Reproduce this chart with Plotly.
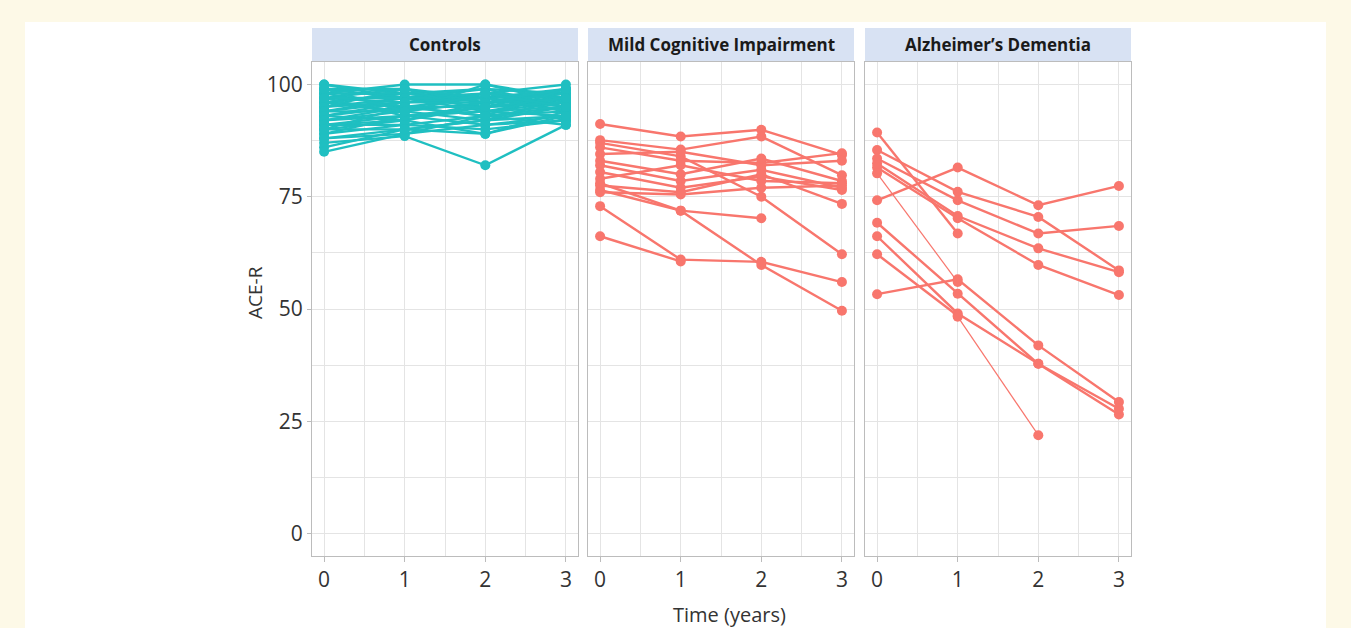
import plotly.graph_objects as go

# ---------------- data ----------------
time_points = [0, 1, 2, 3]
panel_titles = ["Controls", "Mild Cognitive Impairment", "Alzheimer\u2019s Dementia"]
y_ticks = [0, 25, 50, 75, 100]
x_ticks = [0, 1, 2, 3]

# ACE-R per subject at years 0,1,2,3 (None = missing)
controls_scores = [
    [100, 98, 97, 99], [99, 97, 99, 98], [98, 100, 100, 97], [97, 96, 98, 100],
    [97, 99, 96, 96], [96, 98, 99, 95], [96, 95, 97, 98], [95, 97, 95, 99],
    [95, 96, 98, 94], [94, 94, 96, 97], [94, 97, 94, 96], [93, 95, 93, 95],
    [93, 92, 95, 96], [92, 93, 94, 93], [92, 94, 92, 97], [91, 91, 93, 94],
    [91, 93, 91, 93], [90, 92, 96, 92], [90, 90, 92, 95], [89, 91, 90, 92],
    [88, 89, 93, 91], [87, 88.5, 82, 91], [86, 90, 89, 93], [85, 89, 91, 92],
    [98, 95, 95, 96], [99, 99, 97, 98], [100, 97, 98, 97], [98, 98, 96, 99],
    [97, 97, 97, 95], [96, 94, 100, 96], [95, 99, 94, 97], [94, 96, 97, 94],
    [93, 96, 96, 98], [92, 95, 95, 96], [91, 92, 89, 94], [89, 93, 94, 95],
    [88, 90, 92, 93], [97, 93, 95, 97], [90, 95, 93, 99], [99, 94, 98, 95],
]
mci_scores = [
    [91.2, 88.4, 89.9, 84.3], [87.6, 85.5, 88.4, 79.8], [87.0, 84.0, 75.0, 62.2],
    [76.5, 71.9, 59.8, 49.6], [78.0, 71.9, 70.2], [72.9, 61.0, 60.5, 56.0],
    [66.2, 60.6], [86.0, 83.0, 82.5, 84.7], [84.5, 85.0, 82.0, 83.0],
    [83.0, 80.0, 83.5, 78.5], [82.0, 78.5, 81.0, 77.0], [80.5, 77.0, 79.5, 76.5],
    [79.0, 82.0, 78.5, 78.0], [77.5, 76.0, 80.0, 73.4], [76.0, 75.5, 77.0, 77.5],
]
ad_scores = [
    [74.2, 81.5, 73.1, 77.4], [85.4, 76.1, 70.5, 58.6], [83.5, 74.2, 66.8, 68.5],
    [82.4, 70.7, 63.5, 58.2], [81.5, 70.2, 59.8, 53.1], [89.3, 66.8],
    [53.3, 56.6, 41.9, 29.3], [69.2, 53.4, 37.8, 26.5], [66.2, 49.0, 37.8, 27.8],
    [62.2, 48.5],
]
ad_thin_scores = [
    [80.2, 56.0], [None, 48.3, 21.9],
]

# ---------------- style ----------------
TEAL = "#1FBFC1"
SALMON = "#F8766D"
W, H = 1351, 628
L, R, T, B = 312, 1131, 62, 556  # plot-area pixel box
PW = R - L
PH = B - T

def px_x(p):
    return (p - L) / PW

def px_y(p):
    return (B - p) / PH

domains = [(px_x(312), px_x(578)), (px_x(588), px_x(854)), (px_x(865), px_x(1131))]

fig = go.Figure()

groups = [
    (controls_scores, TEAL),
    (mci_scores, SALMON),
    (ad_scores, SALMON),
]
for i, (scores, color) in enumerate(groups):
    xa = "x" if i == 0 else f"x{i + 1}"
    ya = "y" if i == 0 else f"y{i + 1}"
    for s in scores:
        fig.add_trace(go.Scatter(
            x=time_points[:len(s)], y=s, mode="lines+markers",
            line=dict(color=color, width=2.4), marker=dict(size=10, color=color),
            xaxis=xa, yaxis=ya, showlegend=False, hoverinfo="skip"))
for s in ad_thin_scores:
    fig.add_trace(go.Scatter(
        x=time_points[:len(s)], y=s, mode="lines+markers",
        line=dict(color=SALMON, width=1.2), marker=dict(size=10, color=SALMON),
        xaxis="x3", yaxis="y3", showlegend=False, hoverinfo="skip"))

FONT = "Open Sans"
GRID = "#e4e4e4"
BORDER = "#bcbcbc"

layout = dict(
    width=W, height=H,
    margin=dict(l=L, r=W - R, t=T, b=H - B),
    paper_bgcolor="#FDF9E7", plot_bgcolor="white",
    font=dict(family=FONT, color="#333333"),
)
for i in range(3):
    xk = "xaxis" if i == 0 else f"xaxis{i + 1}"
    yk = "yaxis" if i == 0 else f"yaxis{i + 1}"
    ya = "y" if i == 0 else f"y{i + 1}"
    xa = "x" if i == 0 else f"x{i + 1}"
    layout[xk] = dict(
        domain=list(domains[i]), anchor=ya, range=[-0.15, 3.15],
        tickvals=x_ticks, ticktext=[str(v) for v in x_ticks],
        showgrid=True, gridcolor=GRID, gridwidth=1,
        minor=dict(dtick=0.5, tick0=0, showgrid=True, gridcolor=GRID, gridwidth=1),
        showline=True, mirror=True, linecolor=BORDER, linewidth=1,
        ticks="outside", ticklen=5, tickcolor=BORDER, zeroline=False,
        tickfont=dict(family=FONT, size=21, color="#333333"), fixedrange=True,
    )
    layout[yk] = dict(
        domain=[0, 1], anchor=xa, range=[-5, 105],
        tickvals=y_ticks, ticktext=[str(v) for v in y_ticks],
        showgrid=True, gridcolor=GRID, gridwidth=1,
        minor=dict(dtick=12.5, tick0=0, showgrid=True, gridcolor=GRID, gridwidth=1),
        showline=True, mirror=True, linecolor=BORDER, linewidth=1,
        ticks="outside" if i == 0 else "", ticklen=4, tickcolor=BORDER,
        showticklabels=(i == 0), zeroline=False,
        tickfont=dict(family=FONT, size=21, color="#333333"), fixedrange=True,
    )

shapes = [
    dict(type="rect", xref="paper", yref="paper", layer="below",
         x0=px_x(25), x1=px_x(1326), y0=px_y(660), y1=px_y(22),
         fillcolor="white", line=dict(width=0)),
]
annotations = []
for i in range(3):
    xd = "x domain" if i == 0 else f"x{i + 1} domain"
    shapes.append(dict(type="rect", xref=xd, yref="paper", x0=0, x1=1,
                       y0=px_y(61), y1=px_y(28), fillcolor="#D8E2F3",
                       line=dict(width=0)))
    annotations.append(dict(xref=xd, yref="paper", x=0.5, y=px_y(44.5),
                            text=f"<b>{panel_titles[i]}</b>", showarrow=False,
                            xanchor="center", yanchor="middle",
                            font=dict(family=FONT, size=17, color="#1a1a1a")))
annotations.append(dict(xref="paper", yref="paper", x=px_x(729), y=px_y(614),
                        text="Time (years)", showarrow=False, xanchor="center",
                        yanchor="middle", font=dict(family=FONT, size=20, color="#333333")))
annotations.append(dict(xref="paper", yref="paper", x=px_x(255), y=px_y(293),
                        text="ACE-R", showarrow=False, textangle=-90, xanchor="center",
                        yanchor="middle", font=dict(family=FONT, size=19, color="#333333")))
layout["shapes"] = shapes
layout["annotations"] = annotations

fig.update_layout(**layout)
fig.write_html("out.html", config={"displayModeBar": False},
               post_script="document.body.style.margin='0px';document.body.style.overflow='hidden';")
